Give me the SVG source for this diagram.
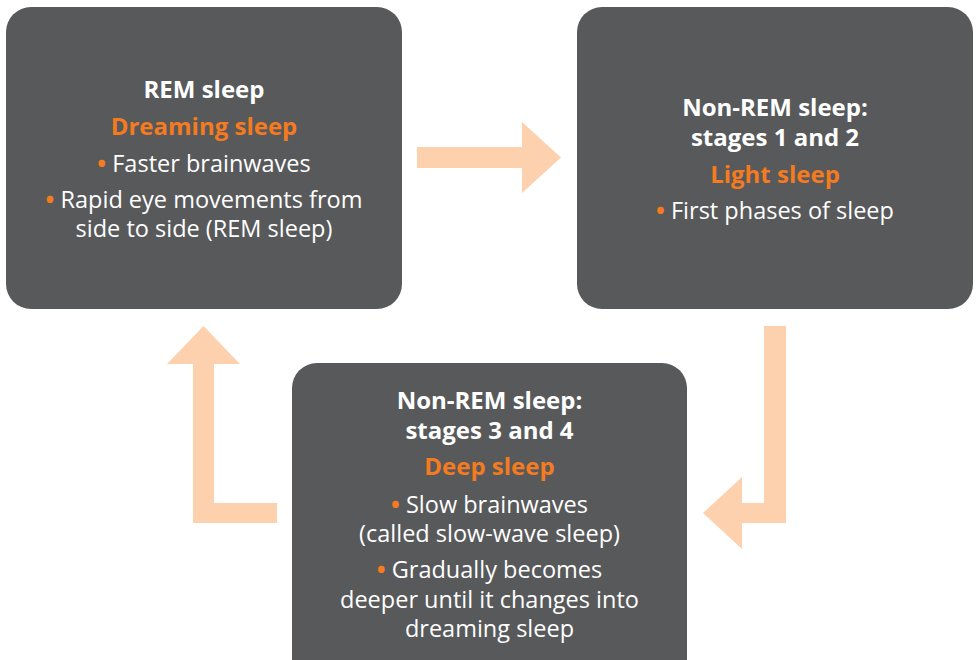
<svg xmlns="http://www.w3.org/2000/svg" width="979" height="660" viewBox="0 0 979 660">
<style>
.box{fill:#58595b}
.arrow{fill:#fdd0ae}
text{font-family:"Open Sans","Noto Sans",sans-serif;text-anchor:middle;font-size:23.5px;fill:#ffffff}
.t{font-weight:bold;font-size:24px}
.o{font-weight:bold;font-size:24px;fill:#f47b20}
.b{fill:#f47b20;font-weight:bold}
</style>
<rect width="979" height="660" fill="#ffffff"/>
<g id="connectors">
<polygon class="arrow" points="417,147 522,147 522,122 561,157.5 522,193 522,168 417,168"/>
<polygon class="arrow" points="786,326 786,523 742,523 742,549 703,513 742,477 742,503 764,503 764,326"/>
<polygon class="arrow" points="277,523 193,523 193,364 167,364 203.5,326 240,364 214,364 214,503 277,503"/>
</g>
<g id="rem">
<rect class="box" x="6" y="7" width="396" height="302" rx="25"/>
<text class="t" x="204" y="98">REM sleep</text>
<text class="o" x="204" y="135">Dreaming sleep</text>
<text x="204" y="172"><tspan class="b">•</tspan> Faster brainwaves</text>
<text x="204" y="208"><tspan class="b">•</tspan> Rapid eye movements from</text>
<text x="204" y="237">side to side (REM sleep)</text>
</g>
<g id="nrem12">
<rect class="box" x="577" y="7" width="396" height="302" rx="25"/>
<text class="t" x="775" y="116">Non-REM sleep:</text>
<text class="t" x="775" y="146">stages 1 and 2</text>
<text class="o" x="775" y="183">Light sleep</text>
<text x="775" y="219"><tspan class="b">•</tspan> First phases of sleep</text>
</g>
<g id="nrem34">
<rect class="box" x="292" y="363" width="395" height="330" rx="25"/>
<text class="t" x="489.5" y="409">Non-REM sleep:</text>
<text class="t" x="489.5" y="439">stages 3 and 4</text>
<text class="o" x="489.5" y="475">Deep sleep</text>
<text x="489.5" y="513"><tspan class="b">•</tspan> Slow brainwaves</text>
<text x="489.5" y="542">(called slow-wave sleep)</text>
<text x="489.5" y="578"><tspan class="b">•</tspan> Gradually becomes</text>
<text x="489.5" y="608">deeper until it changes into</text>
<text x="489.5" y="637">dreaming sleep</text>
</g>
</svg>
